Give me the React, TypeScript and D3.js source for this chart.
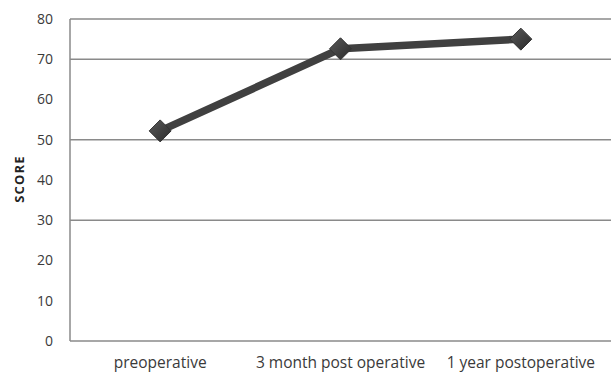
import React from "react";
import * as d3 from "d3";

const categories = ["preoperative", "3 month post operative", "1 year postoperative"];
const scores = [52.2, 72.6, 75.0];
const yTicks = [0, 10, 20, 30, 40, 50, 60, 70, 80];
const gridValues = [30, 50, 70, 80];

export default function App() {
  const W = 614, H = 378;
  const m = { left: 70, right: 3, top: 19, bottom: 37 };
  const x = d3.scaleBand<string>().domain(categories).range([m.left, W - m.right]);
  const y = d3.scaleLinear().domain([0, 80]).range([H - m.bottom, m.top]);
  const cx = (c: string) => (x(c) ?? 0) + x.bandwidth() / 2;
  const pts = categories.map((c, i) => [cx(c), y(scores[i])] as [number, number]);
  const line = d3.line()(pts) ?? "";
  const font = "'Open Sans', 'DejaVu Sans', sans-serif";
  const d = 11;
  return (
    <svg width={W} height={H} style={{ position: "absolute", left: 0, top: 0, background: "#fff" }}>
      <defs>
        <linearGradient id="mk" x1="0" y1="0" x2="1" y2="1">
          <stop offset="0" stopColor="#5a5a5a" />
          <stop offset="1" stopColor="#2a2a2a" />
        </linearGradient>
      </defs>
      {gridValues.map((v) => (
        <line key={v} x1={m.left} x2={W - m.right} y1={y(v)} y2={y(v)} stroke="#8a8a8a" strokeWidth={1.5} />
      ))}
      <line x1={m.left} x2={m.left} y1={y(80)} y2={y(0)} stroke="#8a8a8a" strokeWidth={1.5} />
      <line x1={m.left} x2={W - m.right} y1={y(0)} y2={y(0)} stroke="#8a8a8a" strokeWidth={1.5} />
      {yTicks.map((t) => (
        <text key={t} x={53} y={y(t)} dy="0.35em" textAnchor="end" fontFamily={font} fontSize={14} fill="#3a3a3a">
          {t}
        </text>
      ))}
      {categories.map((c) => (
        <text key={c} x={cx(c)} y={368} textAnchor="middle" fontFamily={font} fontSize={15.5} fill="#3a3a3a">
          {c}
        </text>
      ))}
      <text
        transform={`translate(24,${179}) rotate(-90)`}
        textAnchor="middle"
        fontFamily={font}
        fontSize={13}
        fontWeight="bold"
        letterSpacing={1.2}
        fill="#222"
      >
        SCORE
      </text>
      <path d={line} fill="none" stroke="#404040" strokeWidth={7.5} strokeLinejoin="round" />
      {pts.map(([px, py], i) => (
        <path
          key={i}
          d={`M${px},${py - d}L${px + d},${py}L${px},${py + d}L${px - d},${py}Z`}
          fill="url(#mk)"
          stroke="#333"
          strokeWidth={1}
        />
      ))}
    </svg>
  );
}
